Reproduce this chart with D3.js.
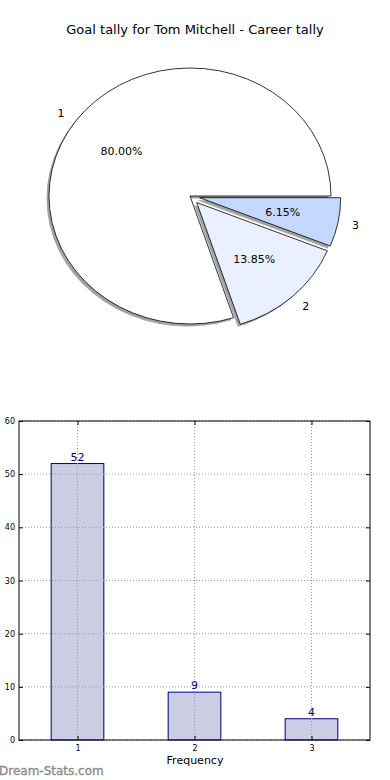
<!DOCTYPE html>
<html><head><meta charset="utf-8">
<script src="https://cdnjs.cloudflare.com/ajax/libs/d3/7.8.5/d3.min.js"></script>
<style>body{margin:0;background:#fff;}svg{display:block;font-family:"DejaVu Sans",sans-serif;}</style>
</head><body>
<svg id="c" width="390" height="780"></svg>
<script>
const categories = ["1","2","3"];
const values = [52, 9, 4];
const pieColors = ["#ffffff", "#eaf0ff", "#c5d8ff"];
const explode = [0, 0.07, 0.07];
const yTicks = [0,10,20,30,40,50,60];
const title = "Goal tally for Tom Mitchell - Career tally";

const svg = d3.select("#c");
svg.append("text").attr("x",195).attr("y",34).attr("text-anchor","middle")
  .attr("font-size",13).text(title);

// Pie (ellipse, matplotlib style: start at 3 o'clock, counter-clockwise)
const cx = 190, cy = 196, rx = 141, ry = 128;
const total = d3.sum(values);
const pie = d3.pie().sort(null).startAngle(Math.PI/2).endAngle(Math.PI/2 - 2*Math.PI)(values);
const arc = d3.arc().innerRadius(0).outerRadius(1);
const pg = svg.append("g");
function slicePath(d){
  return arc({startAngle: Math.min(d.startAngle,d.endAngle), endAngle: Math.max(d.startAngle,d.endAngle)});
}
pie.forEach((d,i)=>{
  const mid = (d.startAngle + d.endAngle)/2;
  const ox = explode[i]*rx*Math.sin(mid), oy = -explode[i]*ry*Math.cos(mid);
  const g = pg.append("g").attr("transform",`translate(${cx+ox},${cy+oy})`);
  g.append("path").attr("d",slicePath(d))
    .attr("transform","translate(-2.5,2.5) scale("+rx+","+ry+")")
    .attr("fill","#8c8c8c").attr("fill-opacity",0.8).attr("stroke","none");
});
pie.forEach((d,i)=>{
  const mid = (d.startAngle + d.endAngle)/2;
  const ox = explode[i]*rx*Math.sin(mid), oy = -explode[i]*ry*Math.cos(mid);
  const g = pg.append("g").attr("transform",`translate(${cx+ox},${cy+oy})`);
  g.append("path").attr("d",slicePath(d))
    .attr("transform","scale("+rx+","+ry+")")
    .attr("fill",pieColors[i]).attr("stroke","#000").attr("stroke-width",0.8)
    .attr("vector-effect","non-scaling-stroke");
  const lx = 1.1*rx*Math.sin(mid), ly = -1.1*ry*Math.cos(mid);
  g.append("text").attr("x",lx).attr("y",ly+4).attr("font-size",11)
    .attr("text-anchor", Math.sin(mid) < 0 ? "end" : "start").text(categories[i]);
  const px = 0.6*rx*Math.sin(mid), py = -0.6*ry*Math.cos(mid);
  g.append("text").attr("x",px).attr("y",py+4).attr("font-size",11)
    .attr("text-anchor","middle").text((values[i]/total*100).toFixed(2)+"%");
});

// Bar chart
const L=19, R=370, T=421, B=740;
const x = d3.scaleLinear().domain([0.5,3.5]).range([L,R]);
const y = d3.scaleLinear().domain([0,60]).range([B,T]);
const bg = svg.append("g");
const bw = 0.45;
bg.selectAll(".bar").data(values).enter().append("rect")
  .attr("x",(d,i)=>x(+categories[i]-bw/2)).attr("width",x(bw)-x(0))
  .attr("y",d=>y(d)).attr("height",d=>B-y(d))
  .attr("fill","#ccccE3").attr("stroke","#000080").attr("stroke-width",1);
bg.selectAll(".gx2").data(categories).enter().append("line")
  .attr("x1",d=>x(+d)).attr("x2",d=>x(+d)).attr("y1",T).attr("y2",B)
  .attr("stroke","#999").attr("stroke-dasharray","1,2").attr("stroke-width",1);
bg.selectAll(".gy2").data(yTicks).enter().append("line")
  .attr("x1",L).attr("x2",R).attr("y1",d=>y(d)).attr("y2",d=>y(d))
  .attr("stroke","#999").attr("stroke-dasharray","1,2").attr("stroke-width",1);
bg.selectAll(".vl").data(values).enter().append("text")
  .attr("x",(d,i)=>x(+categories[i])).attr("y",d=>y(d)-3)
  .attr("text-anchor","middle").attr("font-size",11).attr("fill","#000080").text(d=>d);
// axes
const yAxis = d3.axisLeft(y).tickValues(yTicks).tickSize(-4).tickPadding(4);
const gy = bg.append("g").attr("transform",`translate(${L},0)`).call(yAxis);
const xAxis = d3.axisBottom(x).tickValues(categories.map(Number)).tickFormat(d=>d).tickSize(-4).tickPadding(5);
const gx = bg.append("g").attr("transform",`translate(0,${B})`).call(xAxis);
[gy,gx].forEach(g=>{
  g.select(".domain").remove();
  g.selectAll("text").attr("font-size",8).attr("font-family","DejaVu Sans, sans-serif").attr("fill","#000");
  g.selectAll("line").attr("stroke","#000");
});
const yAxisR = d3.axisRight(y).tickValues(yTicks).tickSize(-4).tickFormat("");
bg.append("g").attr("transform",`translate(${R},0)`).call(yAxisR).call(g=>g.select(".domain").remove());
const xAxisT = d3.axisTop(x).tickValues(categories.map(Number)).tickSize(-4).tickFormat("");
bg.append("g").attr("transform",`translate(0,${T})`).call(xAxisT).call(g=>g.select(".domain").remove());
bg.append("rect").attr("x",L).attr("y",T).attr("width",R-L).attr("height",B-T)
  .attr("fill","none").attr("stroke","#000").attr("stroke-width",1);
svg.append("text").attr("x",195).attr("y",764).attr("text-anchor","middle")
  .attr("font-size",11).text("Frequency");
svg.append("text").attr("x",-1).attr("y",775).attr("font-size",12)
  .attr("fill","#888").attr("stroke","#888").attr("stroke-width",0.3).text("Dream-Stats.com");
</script>
</body></html>
